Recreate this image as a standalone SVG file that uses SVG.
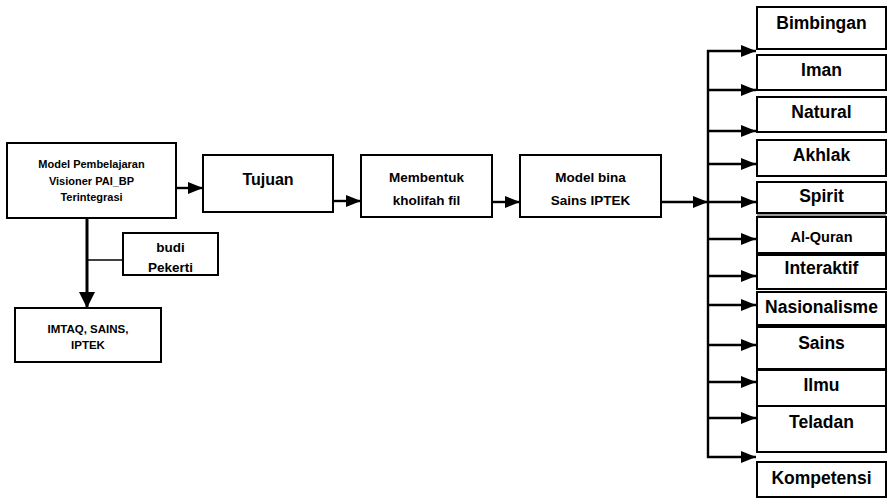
<svg xmlns="http://www.w3.org/2000/svg" width="887" height="499" viewBox="0 0 887 499">
  <defs>
    <marker id="ah" viewBox="0 0 15 12" refX="15" refY="6" markerWidth="15" markerHeight="12" markerUnits="userSpaceOnUse" orient="auto">
      <path d="M0,0 L15,6 L0,12 Z" fill="#000"/>
    </marker>
    <marker id="ahBig" viewBox="0 0 16 16" refX="16" refY="8" markerWidth="16" markerHeight="16" markerUnits="userSpaceOnUse" orient="auto">
      <path d="M0,0 L16,8 L0,16 Z" fill="#000"/>
    </marker>
  </defs>
  <style>
    rect.box { fill: #fff; stroke: #000; stroke-width: 2; }
    text { font-family: "Liberation Sans", Arial, sans-serif; font-weight: bold; fill: #000; text-anchor: middle; dominant-baseline: central; }
    .link { fill: none; stroke: #000; stroke-width: 2.4; }
    .thin { fill: none; stroke: #000; stroke-width: 1.3; }
    .r { font-size: 17.5px; }
    .m { font-size: 11px; }
    .c { font-size: 13.5px; }
  </style>
  <rect width="887" height="499" fill="#fff"/>

  <!-- connectors -->
  <g id="connectors">
    <line class="link" x1="176" y1="188" x2="203" y2="188" marker-end="url(#ah)"/>
    <line class="link" x1="333" y1="201" x2="361" y2="201" marker-end="url(#ah)"/>
    <line class="link" x1="492" y1="202" x2="520" y2="202" marker-end="url(#ah)"/>
    <line class="link" x1="661" y1="202" x2="708" y2="202" marker-end="url(#ah)"/>
    <line x1="87" y1="218" x2="87" y2="308" stroke="#000" stroke-width="3" marker-end="url(#ahBig)"/>
    <line class="thin" x1="87" y1="260" x2="123" y2="260"/>
    <!-- distribution bus -->
    <line class="link" x1="708" y1="50" x2="708" y2="458"/>
    <line class="link" x1="707" y1="51" x2="756" y2="51" marker-end="url(#ah)"/>
    <line class="link" x1="707" y1="90" x2="756" y2="90" marker-end="url(#ah)"/>
    <line class="link" x1="707" y1="131" x2="756" y2="131" marker-end="url(#ah)"/>
    <line class="link" x1="707" y1="164" x2="756" y2="164" marker-end="url(#ah)"/>
    <line class="link" x1="707" y1="202" x2="756" y2="202" marker-end="url(#ah)"/>
    <line class="link" x1="707" y1="239" x2="756" y2="239" marker-end="url(#ah)"/>
    <line class="link" x1="707" y1="276" x2="756" y2="276" marker-end="url(#ah)"/>
    <line class="link" x1="707" y1="305" x2="756" y2="305" marker-end="url(#ah)"/>
    <line class="link" x1="707" y1="345" x2="756" y2="345" marker-end="url(#ah)"/>
    <line class="link" x1="707" y1="382" x2="756" y2="382" marker-end="url(#ah)"/>
    <line class="link" x1="707" y1="418" x2="756" y2="418" marker-end="url(#ah)"/>
    <line class="link" x1="707" y1="457" x2="756" y2="457" marker-end="url(#ah)"/>
  </g>

  <!-- left chain -->
  <g id="model">
    <rect class="box" x="7" y="143" width="169" height="75"/>
    <text class="m" x="91.5" y="164">Model Pembelajaran</text>
    <text class="m" x="91.5" y="181">Visioner PAI_BP</text>
    <text class="m" x="91.5" y="197">Terintegrasi</text>
  </g>
  <g id="tujuan">
    <rect class="box" x="203" y="155" width="130" height="57"/>
    <text x="268" y="179" font-size="16">Tujuan</text>
  </g>
  <g id="membentuk">
    <rect class="box" x="361" y="155" width="131" height="62"/>
    <text class="c" x="426.5" y="177">Membentuk</text>
    <text class="c" x="426.5" y="200">kholifah fil</text>
  </g>
  <g id="modelbina">
    <rect class="box" x="520" y="155" width="141" height="62"/>
    <text class="c" x="590.5" y="177">Model bina</text>
    <text class="c" x="590.5" y="200">Sains IPTEK</text>
  </g>
  <g id="budi">
    <rect class="box" x="123" y="233" width="95" height="42"/>
    <text x="170.5" y="247" font-size="13.5">budi</text>
    <text x="170.5" y="267" font-size="13.5">Pekerti</text>
  </g>
  <g id="imtaq">
    <rect class="box" x="15" y="308" width="146" height="54"/>
    <text x="88" y="329" font-size="11.5">IMTAQ, SAINS,</text>
    <text x="88" y="345" font-size="11.5">IPTEK</text>
  </g>

  <!-- right column -->
  <g id="bimbingan"><rect class="box" x="757" y="7" width="129" height="42"/><text class="r" x="821.5" y="23">Bimbingan</text></g>
  <g id="iman"><rect class="box" x="757" y="55" width="129" height="35"/><text class="r" x="821.5" y="70">Iman</text></g>
  <g id="natural"><rect class="box" x="757" y="97" width="129" height="35"/><text class="r" x="821.5" y="112">Natural</text></g>
  <g id="akhlak"><rect class="box" x="757" y="140" width="129" height="36"/><text class="r" x="821.5" y="155">Akhlak</text></g>
  <g id="spirit">
    <rect class="box" x="757" y="182" width="129" height="31"/>
    <line x1="757" y1="215" x2="886" y2="215" stroke="#999" stroke-width="2"/>
    <text class="r" x="821.5" y="196">Spirit</text>
  </g>
  <g id="alquran"><rect class="box" x="757" y="217" width="129" height="36"/><text x="821.5" y="237" font-size="14.5">Al-Quran</text></g>
  <g id="interaktif"><rect class="box" x="757" y="255" width="129" height="34"/><text class="r" x="821.5" y="268">Interaktif</text></g>
  <g id="nasionalisme"><rect class="box" x="757" y="292" width="129" height="33"/><text class="r" x="821.5" y="307">Nasionalisme</text></g>
  <g id="sains"><rect class="box" x="757" y="327" width="129" height="42"/><text class="r" x="821.5" y="343">Sains</text></g>
  <g id="ilmu"><rect class="box" x="757" y="370" width="129" height="36"/><text class="r" x="821.5" y="385">Ilmu</text></g>
  <g id="teladan"><rect class="box" x="757" y="406" width="129" height="46"/><text class="r" x="821.5" y="422">Teladan</text></g>
  <g id="kompetensi"><rect class="box" x="757" y="462" width="129" height="35"/><text class="r" x="821.5" y="478">Kompetensi</text></g>
</svg>
